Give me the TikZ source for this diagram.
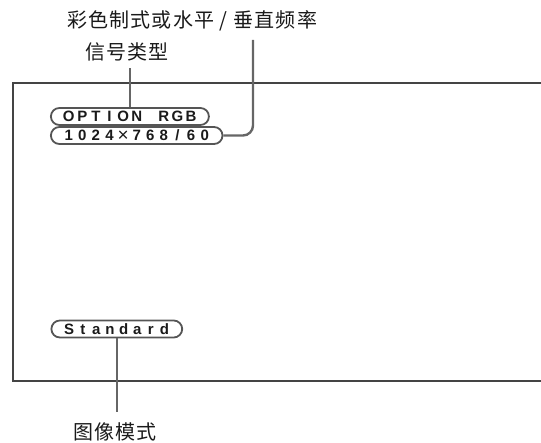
\documentclass[tikz,border=0pt]{standalone}
\usepackage{fontspec}
\setmainfont{Liberation Sans}
\newfontfamily\cjk[LetterSpace=6]{Noto Sans CJK SC}
\newcommand\lc[1]{\makebox[13.6pt]{#1}}
\newcommand\bigtimes{\raisebox{-0.3pt}{\fontsize{19}{19}\selectfont\mdseries ×}}
\definecolor{framegray}{HTML}{444444}
\definecolor{leadgray}{HTML}{666666}
\definecolor{pillgray}{HTML}{555555}
\definecolor{textdark}{HTML}{1a1a1a}
\begin{document}
\begin{tikzpicture}[x=1pt,y=-1pt,
  pill/.style={draw=pillgray, line width=1.8pt, rounded corners=8.5pt,
    minimum height=17pt, inner xsep=11pt, inner ysep=0pt,
    font=\fontsize{15}{15}\selectfont\bfseries, text=textdark, anchor=west},
  cjklabel/.style={font=\fontsize{20}{22}\selectfont\cjk, text=textdark, inner sep=0pt},
  leader/.style={draw=leadgray, line width=2.4pt},
  frameline/.style={draw=framegray, line width=1.4pt}]
\useasboundingbox (0,0) rectangle (541,443);
% frame
\draw[frameline] (541,83) -- (13,83) -- (13,381) -- (541,381);
% labels
\node[cjklabel] (title) at (192,21) {彩色制式或水平 / 垂直频率};
\node[cjklabel] (sig) at (127,52) {信号类型};
\node[cjklabel] (mode) at (115,432) {图像模式};
% pills
\node[pill] (p1) at (50,116.5) {\lc{O}\lc{P}\lc{T}\lc{I}\lc{O}\lc{N}\lc{~}\lc{R}\lc{G}\lc{B}};
\node[pill] (p2) at (50,135.5) {\lc{1}\lc{0}\lc{2}\lc{4}\lc{\bigtimes}\lc{7}\lc{6}\lc{8}\lc{/}\lc{6}\lc{0}};
\node[pill] (p3) at (50.5,329) {\lc{S}\lc{t}\lc{a}\lc{n}\lc{d}\lc{a}\lc{r}\lc{d}};
% leader end points
\coordinate (sigend) at (128,68);
\coordinate (titleend) at (253,40);
\coordinate (modeend) at (114,412);
% leaders
\draw[leader] (p1.north) -- (p1.north |- sigend);
\draw[leader, rounded corners=10pt] (p2.east) -- (titleend |- p2.east) -- (titleend);
\draw[leader] (p3.south) -- (p3.south |- modeend);
\end{tikzpicture}
\end{document}
